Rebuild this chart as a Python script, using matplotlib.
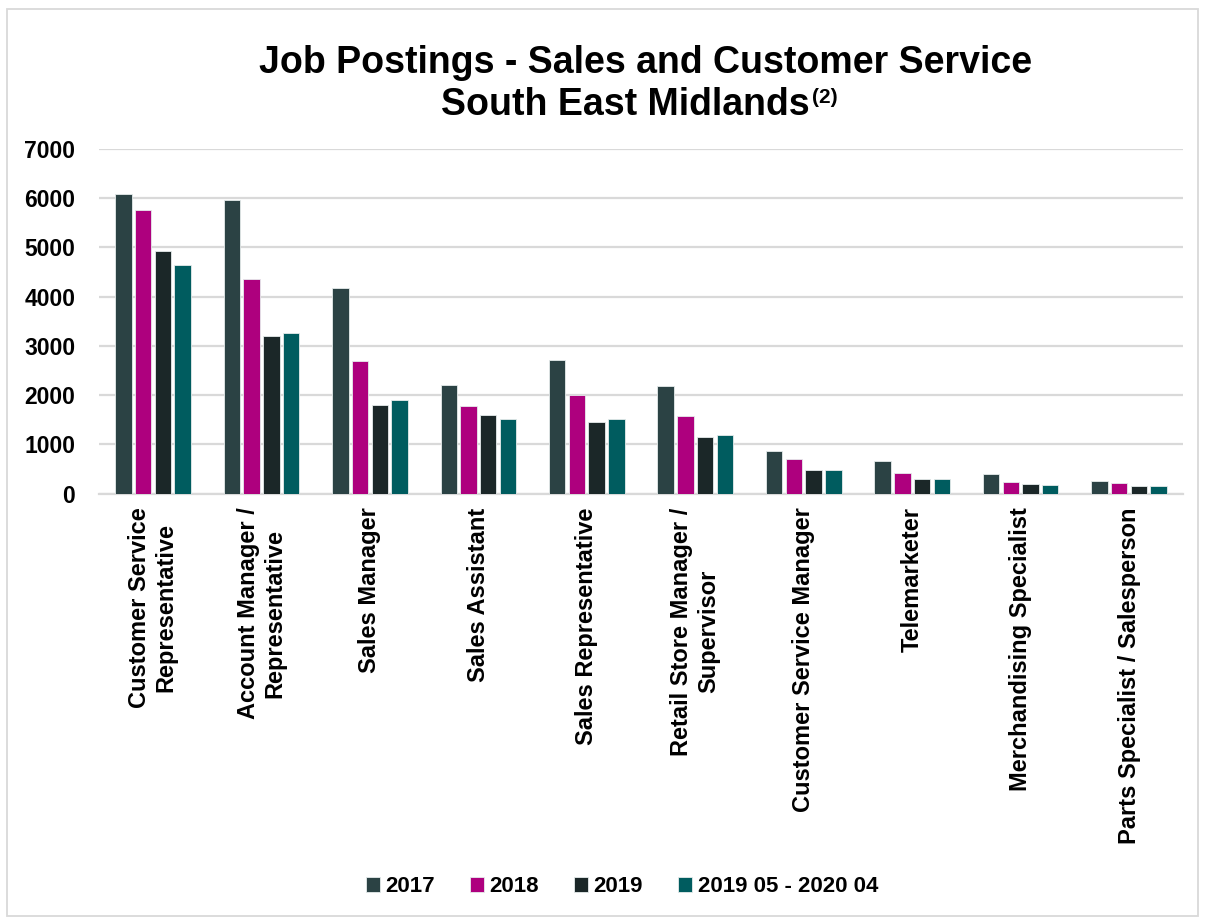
import matplotlib
matplotlib.use("Agg")
import matplotlib.pyplot as plt
from matplotlib.patches import Rectangle
import numpy as np

plt.rcParams['font.family'] = ['Liberation Sans', 'DejaVu Sans']
plt.rcParams['font.weight'] = 'bold'

categories = [
    "Customer Service\nRepresentative",
    "Account Manager /\nRepresentative",
    "Sales Manager",
    "Sales Assistant",
    "Sales Representative",
    "Retail Store Manager /\nSupervisor",
    "Customer Service Manager",
    "Telemarketer",
    "Merchandising Specialist",
    "Parts Specialist / Salesperson",
]
series_names = ["2017", "2018", "2019", "2019 05 - 2020 04"]
values_2017 = [6080, 5960, 4180, 2210, 2720, 2180, 860, 655, 395, 245]
values_2018 = [5750, 4365, 2700, 1775, 2000, 1580, 700, 415, 225, 210]
values_2019 = [4930, 3195, 1795, 1590, 1450, 1140, 475, 290, 195, 150]
values_2020 = [4650, 3270, 1890, 1515, 1510, 1180, 485, 290, 170, 162]
y_ticks = [0, 1000, 2000, 3000, 4000, 5000, 6000, 7000]

colors = ["#2B4244", "#AE007E", "#1B2728", "#005C5F"]

fig = plt.figure(figsize=(12.05, 9.19), dpi=100)
ax = fig.add_axes([0.082, 0.463, 0.900, 0.375])

x = np.arange(len(categories))
step = 0.182
width = 0.152
all_series = [values_2017, values_2018, values_2019, values_2020]
for i, (vals, name, c) in enumerate(zip(all_series, series_names, colors)):
    ax.bar(x + (i - 1.5) * step, vals, width, color=c, label=name,
           edgecolor="#E6ECEC", linewidth=0.6, zorder=3)

ax.set_xlim(-0.5, len(categories) - 0.5)
ax.set_ylim(0, 7000)
ax.set_yticks(y_ticks)
ax.set_yticklabels([str(v) for v in y_ticks], fontsize=16.5, fontweight='bold')
ax.yaxis.grid(True, color="#D9D9D9", linewidth=1.6, zorder=0)
ax.set_axisbelow(True)
for s in ["top", "right", "left"]:
    ax.spines[s].set_visible(False)
ax.spines["bottom"].set_color("#D9D9D9")
ax.spines["bottom"].set_linewidth(1.6)
ax.tick_params(axis="y", length=0, pad=17)
ax.tick_params(axis="x", length=0, pad=10)
ax.set_xticks(x)
ax.set_xticklabels(categories, rotation=90, fontsize=17, fontweight='bold',
                   ha="center", va="top", multialignment="center")

fig.text(0.536, 0.931, "Job Postings - Sales and Customer Service",
         ha="center", va="center", fontsize=27, fontweight='bold')
fig.text(0.519, 0.886, "South East Midlands", ha="center", va="center",
         fontsize=27, fontweight='bold')
fig.text(0.6735, 0.894, "(2)", ha="left", va="center", fontsize=15,
         fontweight='bold')

leg = fig.legend(loc="center", bbox_to_anchor=(0.516, 0.035), ncol=4,
                 frameon=False, handlelength=0.65, handleheight=0.65,
                 handletextpad=0.25, columnspacing=1.55,
                 prop={'weight': 'bold', 'size': 16})

fig.patches.append(Rectangle((0.006, 0.003), 0.988, 0.987,
                             transform=fig.transFigure, fill=False,
                             edgecolor="#D9D9D9", linewidth=1.3))

fig.savefig("out.png", dpi=100)
